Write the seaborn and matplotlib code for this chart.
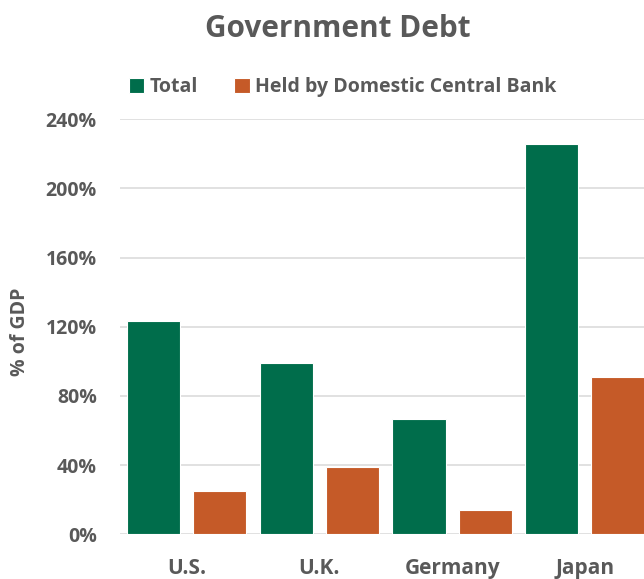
import matplotlib
matplotlib.use("Agg")
import matplotlib.pyplot as plt
import seaborn as sns
import pandas as pd

countries = ["U.S.", "U.K.", "Germany", "Japan"]
total = [123.2, 99.2, 66.9, 225.6]
central_bank = [25.2, 39.1, 14.1, 90.8]
series_names = ["Total", "Held by Domestic Central Bank"]
y_ticks = [0, 40, 80, 120, 160, 200, 240]

colors = ["#006D4B", "#C55A28"]
text_color = "#595959"
FONT = ["Open Sans", "DejaVu Sans"]

df = pd.DataFrame({
    "country": countries * 2,
    "value": total + central_bank,
    "series": [series_names[0]] * len(countries) + [series_names[1]] * len(countries),
})

sns.set_theme(style="white")
plt.rcParams["font.family"] = FONT
plt.rcParams["font.weight"] = "bold"

fig = plt.figure(figsize=(6.44, 5.79), dpi=100)
W, H = 644, 579
left_px, right_px = 120.4, 651.2
bottom_px, top_px = 534.3, 119.3
ax = fig.add_axes([left_px / W, 1 - bottom_px / H, (right_px - left_px) / W, (bottom_px - top_px) / H])

sns.barplot(data=df, x="country", y="value", hue="series", order=countries,
            hue_order=series_names, palette=colors, saturation=1, width=1.0, gap=0.2,
            errorbar=None, edgecolor="white", linewidth=0.8, ax=ax)

ax.set_xlim(-0.5, 3.5)
ax.set_ylim(0, 240)
ax.set_yticks(y_ticks)
ax.set_yticklabels([f"{v}%" for v in y_ticks])
ax.grid(axis="y", color="#d9d9d9", linewidth=1.1)
ax.set_axisbelow(True)
for s in ax.spines.values():
    s.set_visible(False)
ax.tick_params(axis="y", length=0, pad=17, labelsize=14, labelcolor=text_color)
ax.tick_params(axis="x", length=0, pad=17, labelsize=15, labelcolor=text_color)
for lab in ax.get_xticklabels() + ax.get_yticklabels():
    lab.set_fontweight("bold")
ax.set_xlabel("")
ax.set_ylabel("% of GDP", fontsize=14, fontweight="bold", color=text_color, va="center")
ax.yaxis.set_label_coords((20 - left_px) / (right_px - left_px), (bottom_px - 332) / (bottom_px - top_px))

handles, labels = ax.get_legend_handles_labels()
ax.legend_.remove()
fig.legend(handles, labels, loc="center", bbox_to_anchor=(342.5 / W, 1 - 87 / H), ncol=2,
           frameon=False, handlelength=0.8, handleheight=0.8, handletextpad=0.25,
           columnspacing=1.9, prop={"family": FONT, "weight": "bold", "size": 14.0},
           labelcolor=text_color)

fig.text(337.5 / W, 1 - 37 / H, "Government Debt", ha="center", va="baseline",
         fontsize=21.4, fontweight="bold", color=text_color, family=FONT)

fig.savefig("out.png", dpi=100)
